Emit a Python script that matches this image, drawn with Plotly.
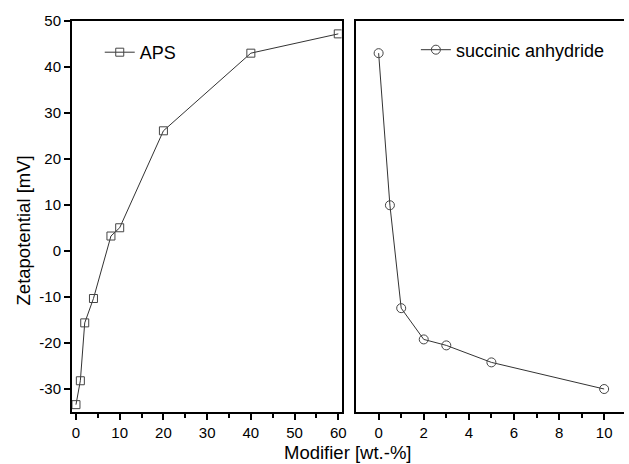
import plotly.graph_objects as go

aps_x = [0, 1, 2, 4, 8, 10, 20, 40, 60]
aps_y = [-33.5, -28.3, -15.7, -10.4, 3.2, 5.0, 26.1, 43.0, 47.2]
sa_x = [0, 0.5, 1, 2, 3, 5, 10]
sa_y = [43.0, 9.9, -12.5, -19.3, -20.6, -24.3, -30.1]

y_ticks = [-30, -20, -10, 0, 10, 20, 30, 40, 50]
y_ticktext = [str(v) for v in y_ticks]  # hyphen minus as in the original
x1_ticks = [0, 10, 20, 30, 40, 50, 60]
x2_ticks = [0, 2, 4, 6, 8, 10]

FONT = "Liberation Sans, Arial, sans-serif"
LC = "#333333"
MC = "#444444"

fig = go.Figure()
fig.add_trace(go.Scatter(
    x=aps_x, y=aps_y, mode="lines+markers", name="APS",
    line=dict(color=LC, width=1),
    marker=dict(symbol="square-open", size=8, color=MC, line=dict(width=1)),
    xaxis="x", yaxis="y", legend="legend", showlegend=True))
fig.add_trace(go.Scatter(
    x=sa_x, y=sa_y, mode="lines+markers", name="succinic anhydride",
    line=dict(color=LC, width=1),
    marker=dict(symbol="circle-open", size=9, color=MC, line=dict(width=1)),
    xaxis="x2", yaxis="y2", legend="legend2", showlegend=True))

W, H = 629, 464
L, R, T, B = 72, 0, 21, 52
pw = W - L - R
ph = H - T - B
d1 = [0, (344 - L) / pw]
d2 = [(359 - L) / pw, 1.0]

axcommon = dict(showgrid=False, zeroline=False, showline=True, linecolor="black",
                linewidth=2, ticks="outside", tickcolor="black", tickwidth=1.5,
                ticklen=6, tickfont=dict(family=FONT, size=15, color="black"))

legfont = dict(family=FONT, size=18, color="black")

fig.update_layout(
    width=W, height=H, margin=dict(l=L, r=R, t=T, b=B),
    paper_bgcolor="white", plot_bgcolor="white", showlegend=True,
    font=dict(family=FONT, color="black"),
    xaxis=dict(domain=d1, range=[-0.91, 60.75], tickvals=x1_ticks,
               minor=dict(tickvals=[5, 15, 25, 35, 45, 55], ticks="outside", ticklen=4,
                          tickcolor="black", tickwidth=1.5),
               mirror=True, anchor="y", **axcommon),
    yaxis=dict(domain=[0, 1], range=[-35.1, 50], tickvals=y_ticks, ticktext=y_ticktext,
               mirror=True, anchor="x", **axcommon),
    xaxis2=dict(domain=d2, range=[-0.985, 10.88], tickvals=x2_ticks,
                minor=dict(tickvals=[1, 3, 5, 7, 9], ticks="outside", ticklen=4,
                           tickcolor="black", tickwidth=1.5),
                mirror=True, anchor="y2", **axcommon),
    yaxis2=dict(domain=[0, 1], range=[-35.1, 50], anchor="x2", showgrid=False,
                zeroline=False, showline=True, linecolor="black", linewidth=2,
                ticks="", showticklabels=False, mirror=False),
    legend=dict(x=(100 - L) / pw, y=(H - B - 52.5) / ph, xanchor="left", yanchor="middle",
                bgcolor="rgba(0,0,0,0)", font=legfont, xref="paper", yref="paper"),
    legend2=dict(x=(419 - L) / pw, y=(H - B - 50) / ph, xanchor="left", yanchor="middle",
                 bgcolor="rgba(0,0,0,0)", font=legfont, xref="paper", yref="paper"),
    annotations=[
        dict(text="Modifier [wt.-%]", x=(349.5 - L) / pw, y=-41 / ph, xref="paper", yref="paper",
             xanchor="center", yanchor="middle", showarrow=False,
             font=dict(family=FONT, size=18.5, color="black")),
        dict(text="Zetapotential [mV]", x=(23 - L) / pw, y=(H - B - 230) / ph,
             xref="paper", yref="paper", textangle=-90, xanchor="center", yanchor="middle",
             showarrow=False, font=dict(family=FONT, size=18.5, color="black")),
    ],
)

fig.write_html("out.html")
